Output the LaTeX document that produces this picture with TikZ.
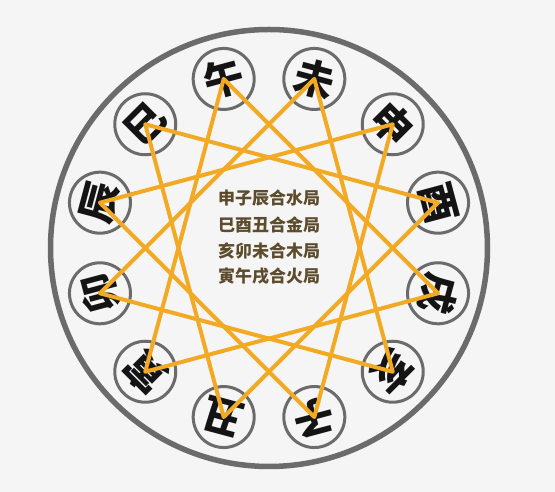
\documentclass[tikz,border=0pt]{standalone}
\usepackage{fontspec}
\newfontfamily\cjk{Noto Sans CJK SC}
\definecolor{bg}{HTML}{F5F5F5}
\definecolor{ring}{HTML}{6B6B6B}
\definecolor{starc}{HTML}{F2AA24}
\definecolor{txt}{HTML}{5C4B2C}
\tikzset{
  zc/.style={circle, draw=ring, line width=3pt, minimum size=61pt, inner sep=0pt,
             font=\cjk\bfseries\fontsize{40}{40}\selectfont, text=black!92},
  bigring/.style={circle, draw=ring, line width=5.5pt, minimum size=437pt, inner sep=0pt},
  starline/.style={draw=starc, line width=4pt, line join=round, line cap=round},
  rule/.style={font=\cjk\bfseries\fontsize{17}{17}\selectfont, text=txt, inner sep=0pt}
}
\begin{document}
\begin{tikzpicture}[x=1pt,y=1pt]
\fill[bg] (0,0) rectangle (555,492);
\useasboundingbox (0,0) rectangle (555,492);
\begin{scope}[shift={(269,244)}]
\node[bigring] (big) at (0,0) {};
\foreach \i/\ch in {0/子,1/丑,2/寅,3/卯,4/辰,5/巳,6/午,7/未,8/申,9/酉,10/戌,11/亥}{
  \pgfmathsetmacro\a{-75-30*\i}
  \node[zc, rotate=\a-90] (n\i) at (\a:175) {\ch};
}
\node[rule] (r1) at (0,50) {申子辰合水局};
\node[rule] (r2) at (0,23.5) {巳酉丑合金局};
\node[rule] (r3) at (0,-2.5) {亥卯未合木局};
\node[rule] (r4) at (0,-28.5) {寅午戌合火局};
\end{scope}
\draw[starline] (n8.center) -- (n0.center) -- (n4.center) -- cycle;
\draw[starline] (n5.center) -- (n9.center) -- (n1.center) -- cycle;
\draw[starline] (n11.center) -- (n3.center) -- (n7.center) -- cycle;
\draw[starline] (n2.center) -- (n6.center) -- (n10.center) -- cycle;
\end{tikzpicture}
\end{document}
